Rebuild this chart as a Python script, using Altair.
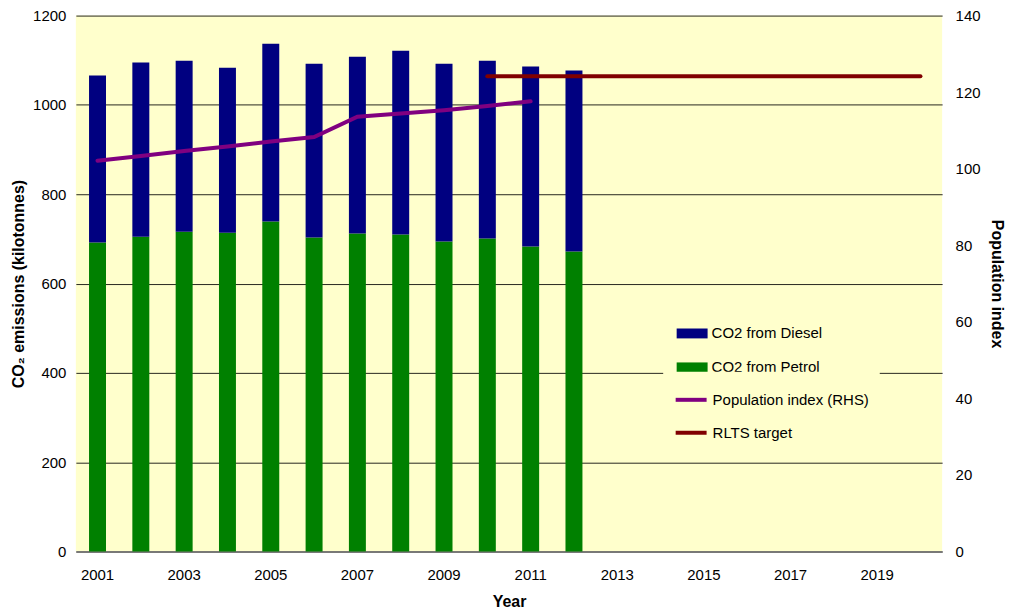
import altair as alt
import pandas as pd

YEARS = ["2001", "2002", "2003", "2004", "2005", "2006", "2007", "2008", "2009", "2010",
         "2011", "2012", "2013", "2014", "2015", "2016", "2017", "2018", "2019", "2020"]
X_LABELS = ["2001", "2003", "2005", "2007", "2009", "2011", "2013", "2015", "2017", "2019"]

BAR_YEARS = ["2001", "2002", "2003", "2004", "2005", "2006", "2007", "2008", "2009", "2010", "2011", "2012"]
PETROL = [692, 705, 716, 714, 739, 703, 712, 710, 694, 701, 683, 672]
DIESEL = [374, 390, 383, 369, 398, 389, 396, 411, 398, 398, 403, 405]

POP_YEARS = ["2001", "2002", "2003", "2004", "2005", "2006", "2007", "2008", "2009", "2010", "2011"]
POPULATION = [102.1, 103.3, 104.6, 105.8, 107.1, 108.3, 113.6, 114.4, 115.3, 116.4, 117.6]

RLTS_YEARS = ["2010", "2020"]
RLTS = [1064, 1064]

LEFT_TICKS = [0, 200, 400, 600, 800, 1000, 1200]
RIGHT_TICKS = [0, 20, 40, 60, 80, 100, 120, 140]

FUELS = ["CO2 from Diesel", "CO2 from Petrol"]
FUEL_COLORS = ["#000080", "#008000"]
LINES = ["Population index (RHS)", "RLTS target"]
LINE_COLORS = ["#800080", "#800000"]

FONT = "Liberation Sans"

bars_df = pd.DataFrame({
    "year": BAR_YEARS + BAR_YEARS,
    "fuel": [FUELS[1]] * len(BAR_YEARS) + [FUELS[0]] * len(BAR_YEARS),
    "value": PETROL + DIESEL,
    "stack_order": [0] * len(BAR_YEARS) + [1] * len(BAR_YEARS),
})
pop_df = pd.DataFrame({"year": POP_YEARS, "value": POPULATION, "series": [LINES[0]] * len(POP_YEARS)})
rlts_df = pd.DataFrame({"year": RLTS_YEARS, "value": RLTS, "series": [LINES[1]] * len(RLTS_YEARS)})

x_axis = alt.Axis(values=X_LABELS, labelAngle=0, ticks=False, domain=True, domainColor="#707070",
                  domainWidth=1.5, labelPadding=16, title="Year", titlePadding=11, grid=False)
x_enc = alt.X("year:N", scale=alt.Scale(domain=YEARS, paddingInner=0, paddingOuter=0), axis=x_axis)

left_axis = alt.Axis(values=LEFT_TICKS, format="d", grid=True, gridColor="#000000", gridWidth=1,
                     gridOpacity=0.85, domain=False, ticks=False, labelPadding=10,
                     title="CO\u2082 emissions (kilotonnes)", titlePadding=6)
right_axis = alt.Axis(orient="right", values=RIGHT_TICKS, format="d", grid=False, domain=False, ticks=False,
                      labelPadding=13, title="Population index", titlePadding=8)

fill_legend = alt.Legend(orient="none", legendX=594, legendY=295, title=None,
                         symbolType="M-1,-0.32H1V0.32H-1Z", symbolSize=961, symbolStrokeWidth=0,
                         labelFont=FONT, labelFontSize=15, labelColor="#000000", labelOffset=4,
                         rowPadding=10, padding=8, fillColor="#FFFFCC")
line_legend = alt.Legend(orient="none", legendX=588.5, legendY=357, title=None,
                         symbolType="stroke", symbolSize=961, symbolStrokeWidth=4,
                         labelFont=FONT, labelFontSize=15, labelColor="#000000", labelOffset=4,
                         rowPadding=7, padding=10.5, fillColor="#FFFFCC")
stroke_scale = alt.Scale(domain=LINES, range=LINE_COLORS)

bars = alt.Chart(bars_df).mark_bar(size=17).encode(
    x=x_enc,
    y=alt.Y("value:Q", stack="zero", scale=alt.Scale(domain=[0, 1200]), axis=left_axis),
    fill=alt.Fill("fuel:N", scale=alt.Scale(domain=FUELS, range=FUEL_COLORS), legend=fill_legend),
    order=alt.Order("stack_order:Q", sort="ascending"),
)

rlts = alt.Chart(rlts_df).mark_line(strokeWidth=4, strokeCap="round").encode(
    x=x_enc,
    y=alt.Y("value:Q", scale=alt.Scale(domain=[0, 1200]), axis=left_axis),
    stroke=alt.Stroke("series:N", scale=stroke_scale, legend=line_legend),
)

pop = alt.Chart(pop_df).mark_line(strokeWidth=4, strokeCap="round").encode(
    x=x_enc,
    y=alt.Y("value:Q", scale=alt.Scale(domain=[0, 140]), axis=right_axis),
    stroke=alt.Stroke("series:N", scale=stroke_scale, legend=line_legend),
)

left = alt.layer(bars, rlts)
chart = alt.layer(left, pop).resolve_scale(y="independent").properties(
    width=868, height=537,
    padding={"left": 2, "top": 0, "right": 0, "bottom": 0},
).configure_view(
    fill="#FFFFCC", stroke=None
).configure_axis(
    labelFont=FONT, labelFontSize=15, labelColor="#000000",
    titleFont=FONT, titleFontSize=16, titleFontWeight="bold", titleColor="#000000",
)

chart.save("out.html", embed_options={"renderer": "svg", "actions": False})
